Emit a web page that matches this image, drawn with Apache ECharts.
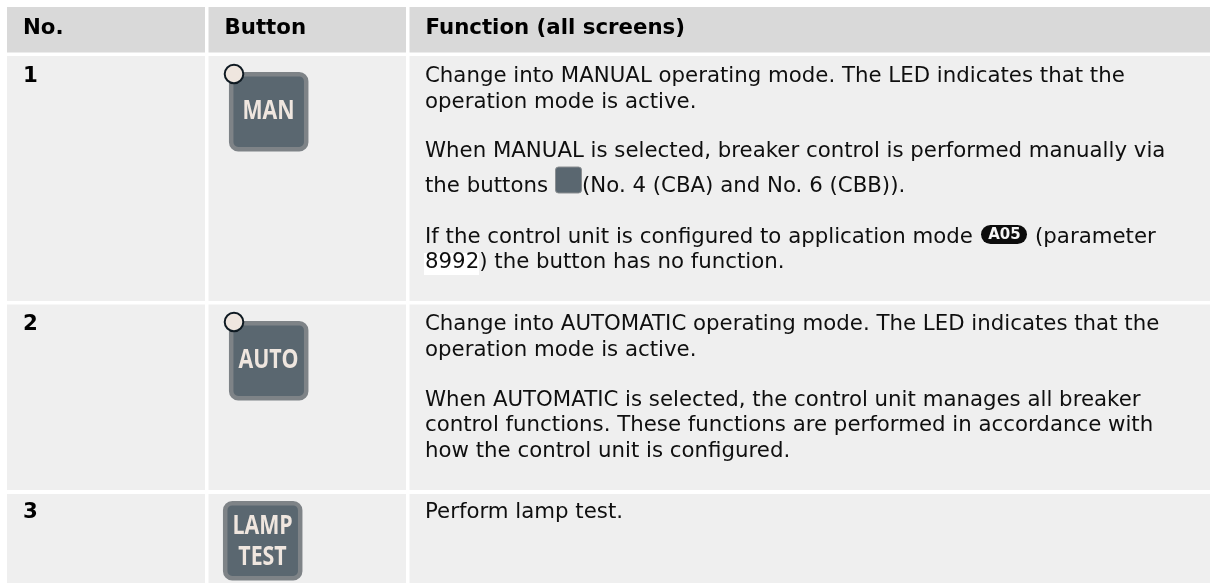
<!DOCTYPE html>
<html><head><meta charset="utf-8">
<style>html,body{margin:0;padding:0;background:#fff}#c{width:1213px;height:583px}</style>
<script src="https://cdn.jsdelivr.net/npm/echarts@6/dist/echarts.min.js"></script>
</head><body><div id="c"></div>
<script>
const headers = ["No.", "Button", "Function (all screens)"];
const rowNumbers = ["1", "2", "3"];
const buttonLabels = [["MAN"], ["AUTO"], ["LAMP", "TEST"]];
const functionText = [
  [[76, "Change into MANUAL operating mode. The LED indicates that the"],
   [102, "operation mode is active."],
   [151, "When MANUAL is selected, breaker control is performed manually via"],
   [186, "the buttons"], [186, "(No. 4 (CBA) and No. 6 (CBB))."],
   [237, "If the control unit is configured to application mode"], [237, "(parameter"],
   [262, "8992) the button has no function."]],
  [[324, "Change into AUTOMATIC operating mode. The LED indicates that the"],
   [350, "operation mode is active."],
   [400, "When AUTOMATIC is selected, the control unit manages all breaker"],
   [425, "control functions. These functions are performed in accordance with"],
   [451, "how the control unit is configured."]],
  [[512, "Perform lamp test."]]
];
const FONT = '"DejaVu Sans"';
const FS = '21.3px ';
const colX = [[7, 205], [208.5, 406], [409.5, 1210]];
const rowY = [[56, 301], [304.5, 490], [494, 583]];
const g = [];
function rect(x, y, w, h, fill) {
  g.push({type:'rect', shape:{x, y, width:w, height:h}, style:{fill}, silent:true});
}
function txt(x, y, text, o) {
  g.push({type:'text', x, y, style:Object.assign({text, fill:'#0f0f0f', font:FS+FONT, verticalAlign:'middle'}, o||{}), silent:true});
}
colX.forEach((c, i) => {
  rect(c[0], 7, c[1]-c[0], 45.5, '#d9d9d9');
  rowY.forEach(r => rect(c[0], r[0], c[1]-c[0], r[1]-r[0], '#efefef'));
});
rect(424, 253, 55, 22, '#ffffff');
colX.forEach((c, i) => txt(c[0]+16, 28, headers[i], {fill:'#000', font:'bold '+FS+FONT}));
rowNumbers.forEach((n, i) => txt(23, [76, 324.5, 512.5][i], n, {fill:'#000', font:'bold '+FS+FONT}));
function button(x, y, lines) {
  g.push({type:'rect', shape:{x:x+2.2, y:y+2.2, width:75, height:75, r:7}, style:{fill:'#5a6770', stroke:'#7e8387', lineWidth:4.5}, silent:true});
  const cx = x+39.5, cy = y+39.5;
  lines.forEach((l, i) => {
    const yy = lines.length === 1 ? cy : cy + (i === 0 ? -14 : 17);
    g.push({type:'text', x:cx, y:yy, scaleX:0.82, style:{text:l, fill:'#efe6df', font:'bold 26px "Open Sans"', align:'center', verticalAlign:'middle'}, silent:true});
  });
}
function led(x, y) {
  g.push({type:'circle', shape:{cx:x, cy:y, r:9.3}, style:{fill:'#efe6df', stroke:'#0f1a22', lineWidth:2}, silent:true});
}
button(229, 72, buttonLabels[0]); led(234, 74);
button(229, 321, buttonLabels[1]); led(234, 322);
button(223, 501, buttonLabels[2]);

functionText.forEach(rows => rows.forEach(([y, t]) => {
  let x = 425;
  if (t.startsWith("(No. 4")) x = 582;
  if (t === "(parameter") x = 1035;
  txt(x, y, t);
}));
g.push({type:'rect', shape:{x:555.5, y:167, width:26, height:26, r:3}, style:{fill:'#5a6770', stroke:'#8a8e91', lineWidth:1}, silent:true});
g.push({type:'rect', shape:{x:981, y:225, width:46, height:19, r:9.5}, style:{fill:'#0c0c0c'}, silent:true});
g.push({type:'text', x:1004.5, y:235, style:{text:'A05', fill:'#f5f5f5', font:'bold 15px '+FONT, align:'center', verticalAlign:'middle'}, silent:true});

const chart = echarts.init(document.getElementById('c'), null, {renderer:'canvas'});
chart.setOption({animation:false, backgroundColor:'#fff', graphic:{elements:g}});
</script></body></html>
